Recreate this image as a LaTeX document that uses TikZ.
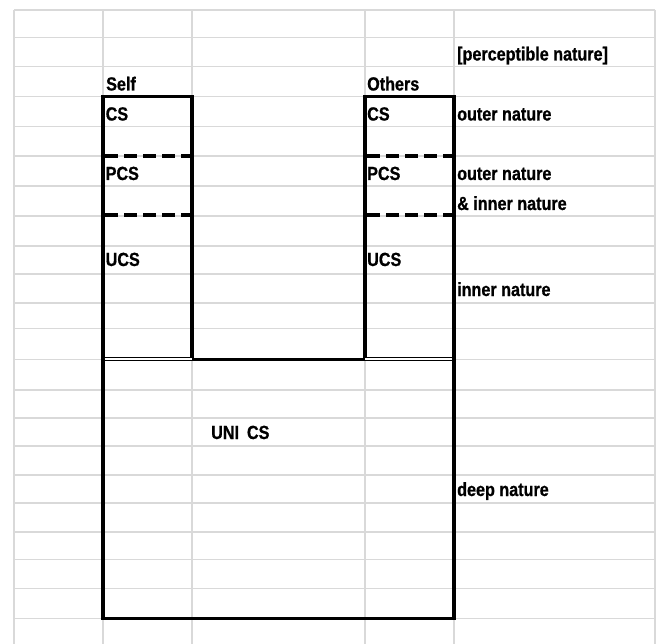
\documentclass[tikz,border=0pt]{standalone}
\usepackage{fontspec}
\setmainfont[FakeStretch=0.85,BoldFeatures={FakeBold=0.8}]{Liberation Sans}
\usetikzlibrary{calc}
\definecolor{gridGray}{RGB}{217,217,217}

\begin{document}
\begin{tikzpicture}[x=1pt,y=-1pt,
  gridline/.style={draw=gridGray,line width=1.6pt},
  boxline/.style={draw=black,line width=3.4pt,line join=miter},
  cutline/.style={draw=black,line width=3.2pt,dash pattern=on 13pt off 6pt},
  celltext/.style={anchor=base west,inner sep=0pt,font=\fontsize{19}{21}\selectfont\bfseries}]
\useasboundingbox[fill=white] (0,0) rectangle (661,644);
% sheet grid
\foreach \yy in {10,37.7,66.7,96.7,126.7,156,186,216,246,274,302.7,328.3,359.3,390,417.7,446,475,502.7,531.7,559.3,588.3,618.3}
  \draw[gridline] (14,\yy) -- (655,\yy);
\foreach \xx in {14,103,192,365,454,655}
  \draw[gridline] (\xx,10) -- (\xx,644);
% the U outline
\draw[boxline] (192,359.3) -- (192,96.7) -- (103,96.7) -- (103,618.3) -- (454,618.3) -- (454,96.7) -- (365,96.7) -- (365,359.3) -- cycle;
\draw[line width=1pt,double=white,double distance=2pt] (104.7,359.3) -- (192,359.3);
\draw[line width=1pt,double=white,double distance=2pt] (365,359.3) -- (452.3,359.3);
% dashed cuts
\foreach \yy in {156,215}{
  \draw[cutline] (105,\yy) -- (190,\yy);
  \draw[cutline] (367,\yy) -- (452,\yy);
}
% cell texts
\node[celltext] (percNat) at (457,60.5) {[perceptible nature]};
\node[celltext] (selfHead) at (106,90.5) {Self};
\node[celltext] (othersHead) at (367,90.5) {Others};
\node[celltext] (selfCS) at (105.5,120.5) {CS};
\node[celltext] (othersCS) at (367,120.5) {CS};
\node[celltext] (outerNat) at (457,120.5) {outer nature};
\node[celltext] (selfPCS) at (105.5,180) {PCS};
\node[celltext] (othersPCS) at (367,180) {PCS};
\node[celltext] (outerNatB) at (457,180) {outer nature};
\node[celltext] (innerNatB) at (457,210) {\& inner nature};
\node[celltext] (selfUCS) at (105.5,266) {UCS};
\node[celltext] (othersUCS) at (367,266) {UCS};
\node[celltext] (innerNat) at (457,296) {inner nature};
\node[celltext] (uniCS) at (211,439) {UNI\hspace{8pt}CS};
\node[celltext] (deepNat) at (457,496) {deep nature};
\end{tikzpicture}
\end{document}
